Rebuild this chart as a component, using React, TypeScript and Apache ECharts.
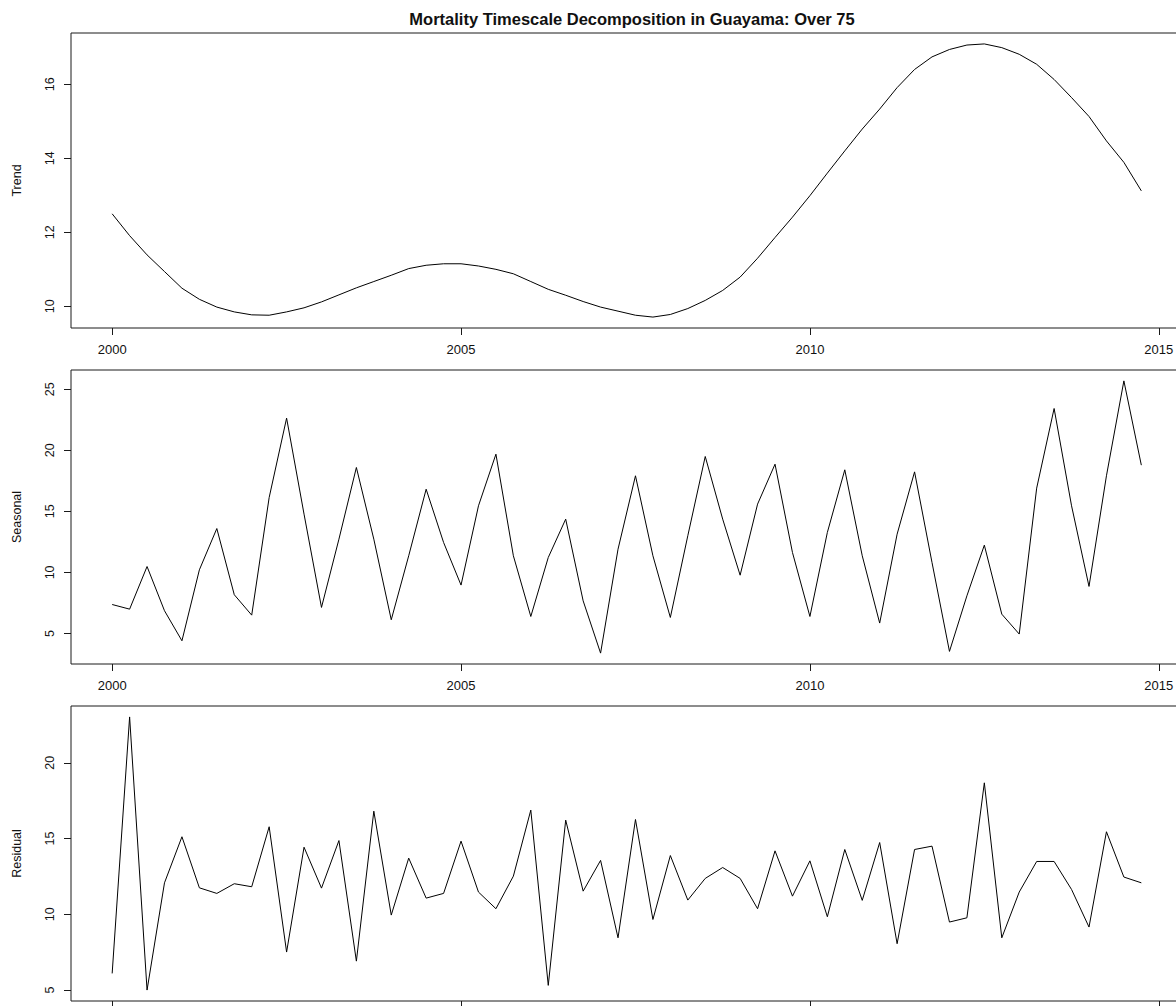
import React, { useEffect, useRef } from "react";
import * as echarts from "echarts";

const chartTitle = "Mortality Timescale Decomposition in Guayama: Over 75";
const startYear = 2000;
const quartersPerYear = 4;

const trend = [
  12.5, 11.91, 11.39, 10.94, 10.49, 10.19, 9.98, 9.85, 9.77, 9.76,
  9.85, 9.96, 10.12, 10.31, 10.5, 10.67, 10.84, 11.02, 11.11, 11.15,
  11.15, 11.09, 11.0, 10.88, 10.67, 10.46, 10.3, 10.13, 9.98, 9.87,
  9.76, 9.71, 9.78, 9.94, 10.16, 10.43, 10.79, 11.3, 11.86, 12.41,
  12.99, 13.6, 14.2, 14.79, 15.33, 15.91, 16.4, 16.74, 16.94, 17.06,
  17.09, 16.99, 16.81, 16.54, 16.13, 15.64, 15.13, 14.47, 13.89, 13.12,
];

const seasonal = [
  7.37, 6.99, 10.48, 6.86, 4.4, 10.21, 13.59, 8.17, 6.5, 16.13,
  22.63, 14.77, 7.13, 12.72, 18.59, 12.72, 6.12, 11.36, 16.81, 12.45,
  8.96, 15.45, 19.68, 11.36, 6.39, 11.22, 14.36, 7.67, 3.39, 11.9,
  17.91, 11.36, 6.31, 13.0, 19.49, 14.36, 9.77, 15.59, 18.86, 11.63,
  6.39, 13.27, 18.4, 11.36, 5.85, 13.13, 18.23, 10.81, 3.53, 8.08,
  12.23, 6.58, 4.95, 16.9, 23.42, 15.45, 8.85, 17.91, 25.68, 18.78,
];

const residual = [
  6.1, 23.03, 5.0, 12.08, 15.12, 11.75, 11.38, 12.02, 11.82, 15.78,
  7.51, 14.43, 11.73, 14.87, 6.91, 16.81, 9.95, 13.71, 11.07, 11.38,
  14.83, 11.47, 10.37, 12.52, 16.88, 5.31, 16.22, 11.53, 13.56, 8.45,
  16.26, 9.66, 13.88, 10.94, 12.37, 13.09, 12.37, 10.37, 14.19, 11.2,
  13.53, 9.84, 14.28, 10.92, 14.74, 8.06, 14.28, 14.5, 9.49, 9.77,
  18.68, 8.45, 11.47, 13.49, 13.49, 11.64, 9.16, 15.45, 12.46, 12.08,
];

const panelNames = ["Trend", "Seasonal", "Residual"];
const xTicks = [2000, 2005, 2010, 2015];
const trendTicks = [10, 12, 14, 16];
const seasonalTicks = [5, 10, 15, 20, 25];
const residualTicks = [5, 10, 15, 20];

const FONT = "'Liberation Sans', Arial, sans-serif";
const INK = "#111";
const FRAME = "#1a1a1a";

function padRange(vals: number[]) {
  const lo = Math.min(...vals);
  const hi = Math.max(...vals);
  const p = (hi - lo) * 0.04;
  return [lo - p, hi + p];
}

export default function App() {
  const ref = useRef<HTMLDivElement>(null);

  useEffect(() => {
    if (!ref.current) return;
    const chart = echarts.init(ref.current, undefined, { renderer: "svg" });

    const time = trend.map((_, i) => startYear + i / quartersPerYear);
    const xr = padRange(time);
    const panels = [trend, seasonal, residual];
    const yTicks = [trendTicks, seasonalTicks, residualTicks];
    const layout = [
      { top: 33, height: 295 },
      { top: 370, height: 294 },
      { top: 706, height: 295 },
    ];

    const option: any = {
      animation: false,
      backgroundColor: "#fff",
      title: {
        text: chartTitle,
        left: 627,
        textAlign: "center",
        top: 5,
        textStyle: {
          fontFamily: FONT,
          fontWeight: "bold",
          fontSize: 16.5,
          color: INK,
        },
      },
      grid: layout.map((l) => ({
        left: 71,
        top: l.top,
        width: 1111.5,
        height: l.height,
        show: true,
        borderColor: FRAME,
        borderWidth: 1,
        backgroundColor: "transparent",
      })),
      xAxis: panels.map((_, i) => ({
        type: "value",
        gridIndex: i,
        min: xr[0],
        max: xr[1],
        axisLine: { show: false },
        splitLine: { show: false },
        axisTick: {
          show: true,
          customValues: xTicks,
          length: 7,
          lineStyle: { color: FRAME, width: 1 },
        },
        axisLabel: {
          show: i < 2,
          customValues: xTicks,
          formatter: (v: number) => String(v),
          margin: 15,
          fontSize: 13,
          color: INK,
          fontFamily: FONT,
        },
      })),
      yAxis: panels.map((vals, i) => {
        const yr = padRange(vals);
        return {
          type: "value",
          gridIndex: i,
          min: yr[0],
          max: yr[1],
          name: panelNames[i],
          nameLocation: "middle",
          nameGap: 48,
          nameTextStyle: { fontSize: 12.5, color: INK, fontFamily: FONT },
          axisLine: { show: false },
          splitLine: { show: false },
          axisTick: {
            show: true,
            customValues: yTicks[i],
            length: 7,
            lineStyle: { color: FRAME, width: 1 },
          },
          axisLabel: {
            customValues: yTicks[i],
            formatter: (v: number) => String(v),
            rotate: 90,
            margin: 15,
            fontSize: 12.5,
            color: INK,
            fontFamily: FONT,
          },
        };
      }),
      series: panels.map((vals, i) => ({
        type: "line",
        xAxisIndex: i,
        yAxisIndex: i,
        data: vals.map((v, k) => [time[k], v]),
        showSymbol: false,
        symbol: "none",
        lineStyle: { color: "#000", width: 1 },
        silent: true,
      })),
    };

    chart.setOption(option);
    return () => chart.dispose();
  }, []);

  return (
    <div
      style={{
        position: "fixed",
        left: 0,
        top: 0,
        width: 1176,
        height: 1006,
        overflow: "hidden",
        background: "#fff",
      }}
    >
      <div ref={ref} style={{ width: 1200, height: 1030 }} />
    </div>
  );
}
